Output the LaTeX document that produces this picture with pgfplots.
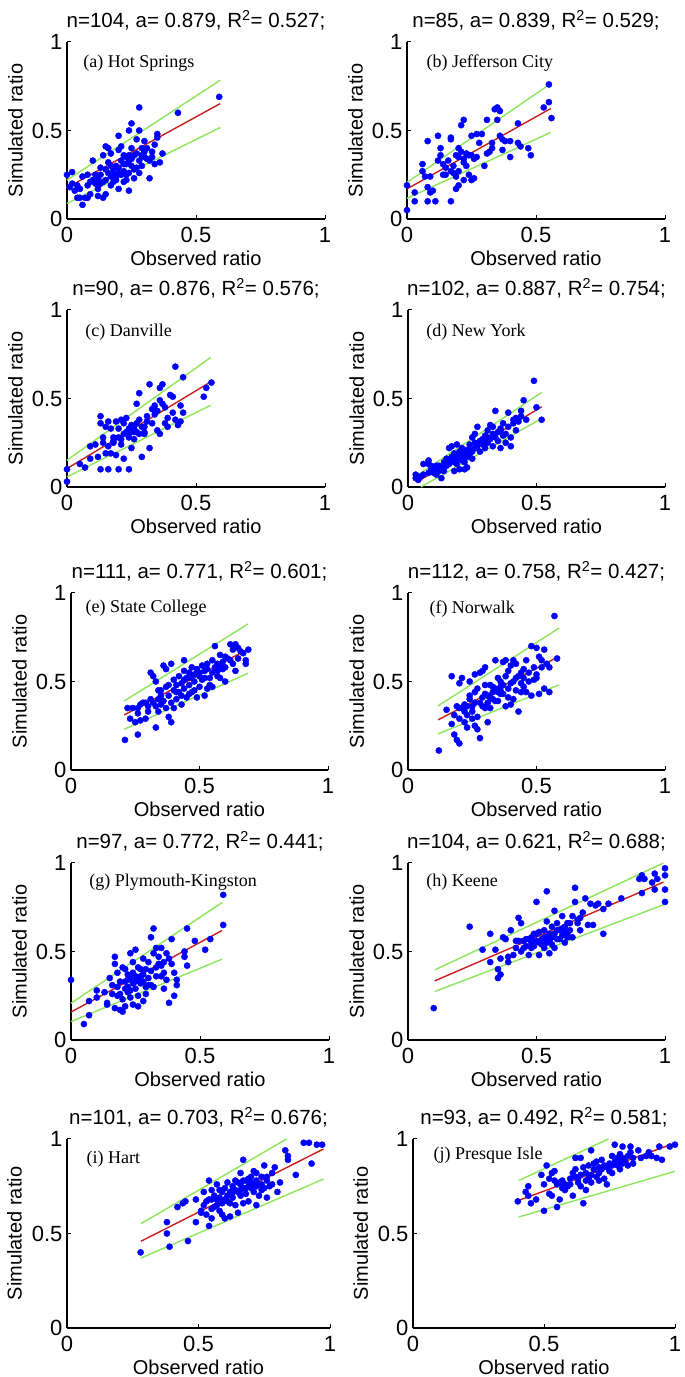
\documentclass[border=0pt]{standalone}
\usepackage{pgfplots}
\pgfplotsset{compat=1.18}
\usepackage{fontspec}
\setmainfont{Liberation Sans}
\newfontfamily\tnr{Liberation Serif}
\definecolor{mblue}{RGB}{0,0,255}
\definecolor{mred}{RGB}{200,30,30}
\definecolor{mgreen}{RGB}{140,230,90}
\tikzset{lab/.style={anchor=west, font=\tnr\fontsize{18}{20}\selectfont}}
\pgfplotsset{
  panel/.style={
    scale only axis, anchor=south west,
    xmin=0, xmax=1, ymin=0, ymax=1,
    xtick={0,0.5,1}, ytick={0,0.5,1},
    axis x line*=bottom, axis y line*=left,
    axis line style={-, line width=1.3pt},
    tick align=inside, major tick length=4pt,
    every tick/.style={black, line width=1pt},
    /pgf/number format/assume math mode=true,
    tick label style={font=\fontsize{22}{22}\selectfont},
    xticklabel style={yshift=-5pt},
    yticklabel style={xshift=-1pt},
    xlabel={Observed ratio}, ylabel={Simulated ratio},
    every axis x label/.style={at={(axis description cs:0.5,0)}, anchor=center, yshift=-39pt, font=\fontsize{20}{22}\selectfont},
    every axis y label/.style={at={(axis description cs:-0.2,0.5)}, rotate=90, anchor=center, font=\fontsize{20}{22}\selectfont},
    every axis title shift=0pt,
    title style={at={(axis description cs:0.5,1)}, anchor=base, yshift=14pt, font=\fontsize{20.5}{22}\selectfont},
    clip=false,
  },
  dots/.style={only marks, mark=*, mark size=3.1pt, mblue, mark options={draw=mblue, fill=mblue}},
  rl/.style={mred, line width=1.4pt},
  gl/.style={mgreen, line width=1.4pt},
}
\begin{document}
\begin{tikzpicture}
\path[use as bounding box] (0,0) rectangle (685pt,1377pt);
% (a)
\begin{axis}[panel, at={(67pt,1158pt)}, width=258pt, height=177pt,
  title={n=104, a= 0.879, R\textsuperscript{2}= 0.527;}]
\addplot[dots] coordinates {(0.00,0.25) (0.02,0.265) (0.01,0.18) (0.03,0.16) (0.04,0.12) (0.05,0.17) (0.06,0.08) (0.07,0.12) (0.08,0.12) (0.06,0.24) (0.08,0.25) (0.09,0.21) (0.10,0.33) (0.10,0.22) (0.11,0.20) (0.12,0.23) (0.12,0.13) (0.13,0.20) (0.13,0.25) (0.14,0.12) (0.14,0.36) (0.15,0.41) (0.15,0.14) (0.15,0.28) (0.16,0.32) (0.16,0.40) (0.17,0.24) (0.17,0.19) (0.17,0.37) (0.18,0.25) (0.18,0.28) (0.19,0.22) (0.19,0.30) (0.20,0.47) (0.20,0.39) (0.20,0.26) (0.20,0.17) (0.21,0.33) (0.21,0.41) (0.22,0.36) (0.22,0.27) (0.22,0.21) (0.23,0.31) (0.23,0.25) (0.23,0.35) (0.24,0.16) (0.24,0.50) (0.24,0.36) (0.25,0.54) (0.25,0.30) (0.25,0.34) (0.26,0.23) (0.26,0.28) (0.27,0.45) (0.27,0.37) (0.28,0.50) (0.28,0.33) (0.28,0.63) (0.29,0.30) (0.29,0.36) (0.30,0.38) (0.30,0.44) (0.31,0.34) (0.31,0.40) (0.32,0.23) (0.32,0.33) (0.33,0.35) (0.34,0.42) (0.34,0.31) (0.35,0.46) (0.35,0.48) (0.36,0.32) (0.37,0.37) (0.43,0.60) (0.59,0.69) (0.02,0.20) (0.04,0.19) (0.05,0.12) (0.09,0.14) (0.11,0.25) (0.13,0.29) (0.16,0.26) (0.18,0.21) (0.19,0.24) (0.21,0.25) (0.22,0.31) (0.24,0.33) (0.26,0.36) (0.27,0.29) (0.29,0.40) (0.30,0.35) (0.33,0.38) (0.25,0.40) (0.12,0.17) (0.08,0.19) (0.14,0.21) (0.17,0.30) (0.20,0.29) (0.23,0.22) (0.28,0.26) (0.15,0.22) (0.24,0.26)};
\addplot[gl] coordinates {(0,0.22) (0.594,0.784)};
\addplot[gl] coordinates {(0,0.088) (0.594,0.517)};
\addplot[rl] coordinates {(0,0.177) (0.594,0.652)};
\node[lab] at (axis description cs:0.05,0.88) {(a) Hot Springs};
\end{axis}
% (b)
\begin{axis}[panel, at={(407pt,1158pt)}, width=258pt, height=177pt,
  title={n=85, a= 0.839, R\textsuperscript{2}= 0.529;}]
\addplot[dots] coordinates {(0,0.05) (0,0.19) (0.03,0.15) (0.03,0.10) (0.06,0.31) (0.06,0.27) (0.07,0.24) (0.08,0.10) (0.08,0.18) (0.08,0.44) (0.09,0.15) (0.09,0.24) (0.10,0.16) (0.11,0.10) (0.12,0.47) (0.13,0.36) (0.13,0.40) (0.14,0.31) (0.15,0.25) (0.15,0.29) (0.16,0.33) (0.17,0.46) (0.17,0.45) (0.17,0.27) (0.17,0.10) (0.18,0.30) (0.19,0.24) (0.19,0.17) (0.19,0.36) (0.20,0.40) (0.20,0.35) (0.20,0.19) (0.21,0.38) (0.21,0.53) (0.22,0.56) (0.22,0.32) (0.22,0.34) (0.22,0.22) (0.23,0.30) (0.23,0.37) (0.24,0.25) (0.25,0.47) (0.25,0.36) (0.25,0.22) (0.26,0.34) (0.26,0.23) (0.27,0.48) (0.28,0.43) (0.29,0.48) (0.30,0.30) (0.31,0.56) (0.31,0.37) (0.32,0.38) (0.33,0.40) (0.33,0.43) (0.34,0.62) (0.35,0.63) (0.35,0.56) (0.36,0.61) (0.36,0.47) (0.37,0.45) (0.37,0.39) (0.38,0.44) (0.40,0.44) (0.40,0.35) (0.43,0.54) (0.43,0.43) (0.44,0.41) (0.48,0.36) (0.53,0.63) (0.55,0.66) (0.55,0.76) (0.56,0.57) (0.14,0.25) (0.18,0.26) (0.20,0.27) (0.24,0.36) (0.27,0.35) (0.12,0.33) (0.47,0.40)};
\addplot[gl] coordinates {(0,0.207) (0.557,0.765)};
\addplot[gl] coordinates {(0,0.117) (0.557,0.489)};
\addplot[rl] coordinates {(0,0.17) (0.557,0.624)};
\node[lab] at (axis description cs:0.062,0.88) {(b) Jefferson City};
\end{axis}
% (c)
\begin{axis}[panel, at={(67pt,890pt)}, width=258pt, height=177pt,
  title={n=90, a= 0.876, R\textsuperscript{2}= 0.576;}]
\addplot[dots] coordinates {(0,0.03) (0,0.10) (0.05,0.13) (0.07,0.11) (0.09,0.23) (0.09,0.16) (0.11,0.24) (0.12,0.17) (0.13,0.36) (0.13,0.40) (0.13,0.10) (0.14,0.25) (0.14,0.28) (0.15,0.34) (0.15,0.19) (0.16,0.10) (0.16,0.37) (0.16,0.23) (0.17,0.33) (0.17,0.19) (0.18,0.26) (0.18,0.25) (0.19,0.37) (0.19,0.18) (0.20,0.33) (0.20,0.10) (0.20,0.28) (0.21,0.24) (0.21,0.38) (0.22,0.36) (0.22,0.16) (0.23,0.31) (0.23,0.39) (0.24,0.28) (0.24,0.33) (0.24,0.10) (0.25,0.22) (0.25,0.35) (0.26,0.31) (0.26,0.27) (0.27,0.36) (0.27,0.47) (0.28,0.53) (0.28,0.38) (0.28,0.30) (0.29,0.17) (0.29,0.34) (0.30,0.34) (0.30,0.30) (0.31,0.37) (0.31,0.40) (0.32,0.22) (0.32,0.58) (0.33,0.44) (0.34,0.46) (0.35,0.43) (0.35,0.32) (0.36,0.49) (0.36,0.56) (0.36,0.30) (0.37,0.47) (0.37,0.58) (0.38,0.45) (0.38,0.36) (0.39,0.39) (0.39,0.34) (0.40,0.52) (0.41,0.51) (0.41,0.42) (0.42,0.68) (0.42,0.38) (0.43,0.35) (0.44,0.46) (0.44,0.37) (0.45,0.62) (0.45,0.42) (0.53,0.51) (0.54,0.56) (0.56,0.59) (0.26,0.33) (0.30,0.31) (0.34,0.41) (0.18,0.28) (0.22,0.30) (0.27,0.31) (0.33,0.36) (0.24,0.30) (0.21,0.27)};
\addplot[gl] coordinates {(0,0.151) (0.557,0.732)};
\addplot[gl] coordinates {(0,0.057) (0.557,0.462)};
\addplot[rl] coordinates {(0,0.104) (0.557,0.594)};
\node[lab] at (axis description cs:0.058,0.876) {(c) Danville};
\end{axis}
% (d)
\begin{axis}[panel, at={(408pt,890pt)}, width=257pt, height=177pt,
  title={n=102, a= 0.887, R\textsuperscript{2}= 0.754;}]
\addplot[dots] coordinates {(0.03,0.05) (0.03,0.07) (0.04,0.04) (0.05,0.06) (0.06,0.07) (0.06,0.13) (0.08,0.15) (0.08,0.13) (0.08,0.08) (0.09,0.10) (0.10,0.08) (0.10,0.11) (0.11,0.07) (0.11,0.12) (0.12,0.09) (0.13,0.05) (0.13,0.11) (0.14,0.14) (0.14,0.09) (0.15,0.12) (0.15,0.14) (0.16,0.22) (0.16,0.13) (0.17,0.15) (0.17,0.17) (0.17,0.23) (0.18,0.09) (0.18,0.14) (0.18,0.19) (0.19,0.24) (0.19,0.16) (0.19,0.13) (0.20,0.18) (0.20,0.20) (0.20,0.10) (0.21,0.17) (0.21,0.15) (0.21,0.22) (0.22,0.19) (0.22,0.10) (0.22,0.14) (0.23,0.21) (0.23,0.11) (0.23,0.17) (0.24,0.19) (0.24,0.24) (0.25,0.20) (0.25,0.28) (0.25,0.16) (0.26,0.22) (0.26,0.25) (0.27,0.34) (0.27,0.23) (0.28,0.26) (0.28,0.20) (0.29,0.27) (0.29,0.24) (0.30,0.29) (0.30,0.22) (0.31,0.25) (0.31,0.32) (0.32,0.27) (0.32,0.35) (0.33,0.30) (0.33,0.23) (0.33,0.34) (0.34,0.43) (0.34,0.28) (0.35,0.26) (0.35,0.31) (0.36,0.22) (0.36,0.33) (0.37,0.36) (0.37,0.29) (0.38,0.30) (0.38,0.25) (0.39,0.42) (0.39,0.34) (0.40,0.28) (0.40,0.23) (0.41,0.38) (0.41,0.36) (0.42,0.32) (0.43,0.37) (0.44,0.43) (0.44,0.40) (0.45,0.49) (0.46,0.38) (0.49,0.60) (0.50,0.45) (0.52,0.38) (0.42,0.39) (0.36,0.32) (0.30,0.26) (0.27,0.24) (0.24,0.21) (0.15,0.16) (0.12,0.12) (0.09,0.12) (0.26,0.30) (0.31,0.28)};
\addplot[gl] coordinates {(0.035,0.066) (0.52,0.534)};
\addplot[gl] coordinates {(0.05,0.0) (0.52,0.387)};
\addplot[rl] coordinates {(0.035,0.028) (0.52,0.453)};
\node[lab] at (axis description cs:0.058,0.876) {(d) New York};
\end{axis}
% (e)
\begin{axis}[panel, at={(71pt,607pt)}, width=257pt, height=177pt,
  title={n=111, a= 0.771, R\textsuperscript{2}= 0.601;}]
\addplot[dots] coordinates {(0.21,0.17) (0.22,0.35) (0.23,0.29) (0.24,0.35) (0.25,0.27) (0.26,0.20) (0.26,0.35) (0.27,0.37) (0.27,0.28) (0.28,0.38) (0.29,0.29) (0.30,0.33) (0.31,0.40) (0.31,0.55) (0.32,0.53) (0.32,0.38) (0.33,0.24) (0.33,0.36) (0.33,0.50) (0.34,0.40) (0.34,0.33) (0.35,0.42) (0.35,0.45) (0.36,0.39) (0.36,0.59) (0.37,0.35) (0.37,0.47) (0.37,0.57) (0.38,0.30) (0.38,0.42) (0.39,0.60) (0.39,0.27) (0.39,0.38) (0.40,0.45) (0.40,0.51) (0.41,0.40) (0.41,0.48) (0.42,0.53) (0.42,0.44) (0.43,0.49) (0.43,0.37) (0.44,0.56) (0.44,0.46) (0.44,0.62) (0.45,0.52) (0.45,0.41) (0.46,0.48) (0.46,0.55) (0.47,0.58) (0.47,0.44) (0.48,0.50) (0.48,0.45) (0.49,0.57) (0.49,0.41) (0.50,0.53) (0.50,0.47) (0.50,0.55) (0.51,0.59) (0.51,0.51) (0.52,0.42) (0.52,0.56) (0.53,0.46) (0.53,0.60) (0.54,0.52) (0.54,0.48) (0.55,0.62) (0.55,0.55) (0.56,0.58) (0.56,0.70) (0.57,0.53) (0.57,0.60) (0.58,0.65) (0.58,0.52) (0.59,0.57) (0.59,0.61) (0.60,0.64) (0.60,0.50) (0.61,0.63) (0.62,0.71) (0.63,0.68) (0.63,0.60) (0.64,0.71) (0.64,0.56) (0.65,0.63) (0.66,0.67) (0.67,0.66) (0.68,0.60) (0.68,0.62) (0.69,0.68) (0.29,0.38) (0.35,0.37) (0.41,0.44) (0.46,0.43) (0.48,0.54) (0.52,0.52) (0.57,0.56) (0.62,0.62) (0.40,0.35) (0.44,0.51) (0.34,0.45) (0.30,0.36) (0.55,0.47) (0.47,0.52) (0.60,0.58) (0.38,0.48) (0.43,0.42) (0.53,0.57) (0.26,0.32) (0.65,0.69) (0.58,0.59)};
\addplot[gl] coordinates {(0.207,0.39) (0.689,0.825)};
\addplot[gl] coordinates {(0.207,0.23) (0.689,0.547)};
\addplot[rl] coordinates {(0.207,0.311) (0.689,0.683)};
\node[lab] at (axis description cs:0.043,0.915) {(e) State College};
\end{axis}
% (f)
\begin{axis}[panel, at={(408pt,607pt)}, width=257pt, height=177pt,
  title={n=112, a= 0.758, R\textsuperscript{2}= 0.427;}]
\addplot[dots] coordinates {(0.12,0.11) (0.15,0.34) (0.17,0.53) (0.17,0.26) (0.18,0.20) (0.18,0.31) (0.19,0.17) (0.19,0.36) (0.20,0.15) (0.20,0.49) (0.20,0.29) (0.21,0.35) (0.21,0.52) (0.22,0.27) (0.22,0.37) (0.23,0.24) (0.23,0.31) (0.24,0.42) (0.24,0.50) (0.24,0.40) (0.25,0.36) (0.25,0.33) (0.26,0.54) (0.26,0.25) (0.26,0.38) (0.27,0.23) (0.27,0.46) (0.27,0.30) (0.28,0.55) (0.28,0.18) (0.28,0.38) (0.29,0.56) (0.29,0.41) (0.30,0.58) (0.30,0.35) (0.30,0.48) (0.31,0.27) (0.31,0.42) (0.32,0.35) (0.32,0.48) (0.33,0.44) (0.33,0.40) (0.34,0.62) (0.34,0.46) (0.35,0.52) (0.35,0.39) (0.36,0.50) (0.36,0.45) (0.36,0.43) (0.37,0.61) (0.37,0.48) (0.38,0.62) (0.38,0.36) (0.38,0.53) (0.39,0.46) (0.39,0.41) (0.40,0.59) (0.40,0.37) (0.41,0.62) (0.41,0.40) (0.41,0.50) (0.42,0.60) (0.42,0.45) (0.43,0.33) (0.43,0.53) (0.44,0.55) (0.44,0.49) (0.45,0.52) (0.45,0.47) (0.46,0.62) (0.46,0.44) (0.47,0.55) (0.48,0.70) (0.48,0.42) (0.49,0.51) (0.50,0.69) (0.50,0.54) (0.51,0.64) (0.51,0.43) (0.52,0.58) (0.52,0.62) (0.53,0.68) (0.53,0.46) (0.54,0.60) (0.55,0.58) (0.55,0.44) (0.57,0.87) (0.58,0.63) (0.22,0.33) (0.29,0.36) (0.33,0.47) (0.37,0.43) (0.40,0.49) (0.44,0.44) (0.25,0.29) (0.31,0.38) (0.35,0.44) (0.47,0.50) (0.20,0.35) (0.34,0.39) (0.39,0.56) (0.42,0.52) (0.49,0.58) (0.26,0.44) (0.30,0.43) (0.36,0.47) (0.23,0.36) (0.45,0.57) (0.50,0.52) (0.32,0.41)};
\addplot[gl] coordinates {(0.117,0.362) (0.588,0.802)};
\addplot[gl] coordinates {(0.117,0.204) (0.588,0.481)};
\addplot[rl] coordinates {(0.117,0.283) (0.588,0.642)};
\node[lab] at (axis description cs:0.07,0.91) {(f) Norwalk};
\end{axis}
% (g)
\begin{axis}[panel, at={(71pt,337pt)}, width=258pt, height=177pt,
  title={n=97, a= 0.772, R\textsuperscript{2}= 0.441;}]
\addplot[dots] coordinates {(0,0.34) (0.05,0.09) (0.07,0.14) (0.07,0.22) (0.10,0.28) (0.10,0.24) (0.13,0.27) (0.14,0.21) (0.14,0.20) (0.15,0.35) (0.16,0.26) (0.17,0.47) (0.17,0.43) (0.17,0.18) (0.18,0.38) (0.18,0.30) (0.19,0.17) (0.19,0.26) (0.20,0.41) (0.20,0.23) (0.20,0.16) (0.21,0.40) (0.21,0.33) (0.21,0.19) (0.22,0.37) (0.22,0.27) (0.22,0.30) (0.23,0.35) (0.23,0.49) (0.23,0.24) (0.24,0.32) (0.24,0.44) (0.24,0.20) (0.25,0.51) (0.25,0.36) (0.25,0.29) (0.26,0.41) (0.26,0.34) (0.26,0.19) (0.27,0.40) (0.27,0.32) (0.28,0.37) (0.28,0.22) (0.28,0.46) (0.29,0.30) (0.29,0.26) (0.30,0.44) (0.30,0.35) (0.30,0.31) (0.31,0.58) (0.31,0.31) (0.32,0.63) (0.32,0.49) (0.33,0.36) (0.33,0.52) (0.34,0.47) (0.34,0.43) (0.35,0.42) (0.35,0.52) (0.36,0.38) (0.36,0.29) (0.37,0.49) (0.37,0.34) (0.38,0.21) (0.38,0.46) (0.39,0.43) (0.39,0.57) (0.40,0.25) (0.41,0.34) (0.41,0.31) (0.44,0.50) (0.44,0.47) (0.45,0.42) (0.45,0.63) (0.48,0.56) (0.52,0.51) (0.54,0.57) (0.59,0.82) (0.59,0.65) (0.24,0.38) (0.27,0.36) (0.21,0.29) (0.29,0.40) (0.25,0.33) (0.31,0.39) (0.19,0.33) (0.33,0.41) (0.28,0.33) (0.23,0.28) (0.35,0.36) (0.26,0.25) (0.18,0.25) (0.32,0.30) (0.36,0.44) (0.22,0.34) (0.40,0.38) (0.16,0.31)};
\addplot[gl] coordinates {(0,0.208) (0.586,0.777)};
\addplot[gl] coordinates {(0,0.104) (0.586,0.457)};
\addplot[rl] coordinates {(0,0.158) (0.586,0.619)};
\node[lab] at (axis description cs:0.058,0.893) {(g) Plymouth-Kingston};
\end{axis}
% (h)
\begin{axis}[panel, at={(408pt,337pt)}, width=257pt, height=177pt,
  title={n=104, a= 0.621, R\textsuperscript{2}= 0.688;}]
\addplot[dots] coordinates {(0.10,0.18) (0.24,0.64) (0.29,0.51) (0.32,0.44) (0.32,0.60) (0.34,0.51) (0.35,0.40) (0.35,0.35) (0.36,0.37) (0.36,0.46) (0.37,0.58) (0.38,0.57) (0.39,0.44) (0.39,0.47) (0.40,0.62) (0.41,0.48) (0.42,0.56) (0.43,0.69) (0.43,0.56) (0.44,0.50) (0.44,0.66) (0.45,0.56) (0.46,0.53) (0.47,0.48) (0.47,0.57) (0.48,0.52) (0.48,0.55) (0.49,0.60) (0.49,0.53) (0.50,0.78) (0.50,0.56) (0.51,0.61) (0.51,0.48) (0.52,0.54) (0.53,0.58) (0.53,0.52) (0.54,0.84) (0.54,0.67) (0.54,0.55) (0.55,0.60) (0.55,0.49) (0.56,0.64) (0.56,0.58) (0.57,0.73) (0.57,0.52) (0.58,0.62) (0.58,0.66) (0.59,0.57) (0.60,0.70) (0.60,0.63) (0.61,0.55) (0.61,0.64) (0.62,0.58) (0.62,0.66) (0.63,0.62) (0.64,0.70) (0.64,0.58) (0.65,0.86) (0.65,0.78) (0.66,0.66) (0.66,0.68) (0.67,0.62) (0.68,0.72) (0.69,0.80) (0.70,0.65) (0.71,0.77) (0.72,0.65) (0.73,0.76) (0.74,0.77) (0.76,0.74) (0.76,0.60) (0.78,0.77) (0.83,0.80) (0.90,0.91) (0.91,0.93) (0.91,0.83) (0.92,0.91) (0.95,0.89) (0.96,0.94) (0.96,0.85) (0.97,0.91) (1.00,0.97) (1.00,0.93) (1.00,0.85) (1.00,0.78) (0.45,0.52) (0.50,0.60) (0.52,0.57) (0.55,0.56) (0.57,0.60) (0.59,0.62) (0.62,0.60) (0.48,0.58) (0.53,0.62) (0.56,0.54) (0.60,0.59) (0.63,0.66) (0.42,0.52) (0.46,0.57) (0.58,0.57) (0.51,0.55) (0.67,0.69) (0.54,0.58) (0.61,0.61)};
\addplot[gl] coordinates {(0.104,0.396) (0.994,1.0)};
\addplot[gl] coordinates {(0.104,0.274) (0.994,0.764)};
\addplot[rl] coordinates {(0.104,0.334) (0.994,0.892)};
\node[lab] at (axis description cs:0.058,0.893) {(h) Keene};
\end{axis}
% (i)
\begin{axis}[panel, at={(67pt,49pt)}, width=263pt, height=189pt,
  title={n=101, a= 0.703, R\textsuperscript{2}= 0.676;}]
\addplot[dots] coordinates {(0.28,0.40) (0.38,0.50) (0.38,0.56) (0.39,0.43) (0.42,0.64) (0.44,0.66) (0.45,0.67) (0.46,0.46) (0.49,0.68) (0.49,0.56) (0.51,0.62) (0.51,0.61) (0.52,0.72) (0.52,0.65) (0.53,0.60) (0.54,0.78) (0.54,0.68) (0.54,0.54) (0.55,0.58) (0.55,0.63) (0.55,0.73) (0.56,0.70) (0.57,0.65) (0.57,0.76) (0.58,0.62) (0.58,0.69) (0.59,0.72) (0.59,0.60) (0.60,0.74) (0.60,0.58) (0.61,0.67) (0.61,0.77) (0.62,0.72) (0.62,0.59) (0.63,0.75) (0.63,0.69) (0.64,0.78) (0.64,0.65) (0.65,0.72) (0.65,0.61) (0.66,0.76) (0.66,0.70) (0.66,0.82) (0.67,0.89) (0.67,0.74) (0.67,0.66) (0.68,0.78) (0.68,0.71) (0.69,0.75) (0.69,0.67) (0.70,0.80) (0.70,0.74) (0.71,0.83) (0.71,0.72) (0.72,0.78) (0.72,0.65) (0.72,0.82) (0.73,0.76) (0.73,0.70) (0.74,0.80) (0.74,0.76) (0.75,0.74) (0.75,0.86) (0.76,0.78) (0.76,0.69) (0.77,0.75) (0.78,0.82) (0.79,0.85) (0.80,0.72) (0.81,0.77) (0.83,0.94) (0.84,0.91) (0.84,0.89) (0.87,0.81) (0.90,0.98) (0.92,0.98) (0.93,0.87) (0.95,0.97) (0.97,0.97) (0.58,0.73) (0.60,0.68) (0.62,0.66) (0.64,0.73) (0.66,0.73) (0.68,0.74) (0.70,0.77) (0.63,0.72) (0.57,0.68) (0.65,0.77) (0.69,0.79) (0.71,0.76) (0.74,0.73) (0.61,0.70) (0.56,0.64) (0.53,0.67) (0.67,0.78) (0.72,0.75) (0.59,0.66) (0.76,0.80) (0.78,0.76) (0.55,0.68)};
\addplot[gl] coordinates {(0.281,0.552) (0.835,1.0)};
\addplot[gl] coordinates {(0.281,0.37) (0.975,0.788)};
\addplot[rl] coordinates {(0.281,0.459) (0.975,0.947)};
\node[lab] at (axis description cs:0.061,0.894) {(i) Hart};
\end{axis}
% (j)
\begin{axis}[panel, at={(413pt,49pt)}, width=262pt, height=189pt,
  title={n=93, a= 0.492, R\textsuperscript{2}= 0.581;}]
\addplot[dots] coordinates {(0.40,0.67) (0.43,0.72) (0.44,0.75) (0.44,0.70) (0.45,0.66) (0.47,0.68) (0.49,0.81) (0.50,0.62) (0.50,0.76) (0.51,0.86) (0.52,0.71) (0.52,0.79) (0.53,0.82) (0.53,0.70) (0.54,0.78) (0.54,0.83) (0.55,0.76) (0.55,0.64) (0.56,0.77) (0.56,0.68) (0.57,0.74) (0.58,0.73) (0.58,0.76) (0.59,0.75) (0.60,0.79) (0.61,0.82) (0.61,0.70) (0.62,0.84) (0.62,0.90) (0.63,0.77) (0.63,0.79) (0.64,0.90) (0.64,0.75) (0.65,0.85) (0.65,0.66) (0.66,0.82) (0.66,0.73) (0.67,0.79) (0.67,0.86) (0.68,0.94) (0.68,0.81) (0.69,0.84) (0.70,0.80) (0.70,0.88) (0.71,0.82) (0.71,0.78) (0.72,0.89) (0.72,0.84) (0.73,0.79) (0.74,0.76) (0.74,0.85) (0.75,0.87) (0.76,0.82) (0.76,0.91) (0.77,0.97) (0.77,0.88) (0.78,0.86) (0.78,0.90) (0.79,0.92) (0.79,0.84) (0.80,0.90) (0.80,0.96) (0.81,0.88) (0.82,0.91) (0.83,0.93) (0.83,0.96) (0.84,0.90) (0.86,0.94) (0.87,0.90) (0.89,0.91) (0.90,0.93) (0.91,0.91) (0.93,0.90) (0.94,0.96) (0.95,0.89) (0.98,0.96) (1.00,0.97) (0.60,0.76) (0.62,0.80) (0.66,0.78) (0.69,0.87) (0.73,0.86) (0.75,0.83) (0.78,0.88) (0.80,0.87) (0.82,0.86) (0.57,0.78) (0.64,0.81) (0.71,0.85) (0.76,0.86) (0.79,0.89) (0.84,0.87) (0.68,0.77)};
\addplot[gl] coordinates {(0.403,0.78) (0.746,1.0)};
\addplot[gl] coordinates {(0.403,0.587) (1.0,0.829)};
\addplot[rl] coordinates {(0.403,0.675) (1.0,0.979)};
\node[lab] at (axis description cs:0.065,0.915) {(j) Presque Isle};
\end{axis}
\end{tikzpicture}
\end{document}
